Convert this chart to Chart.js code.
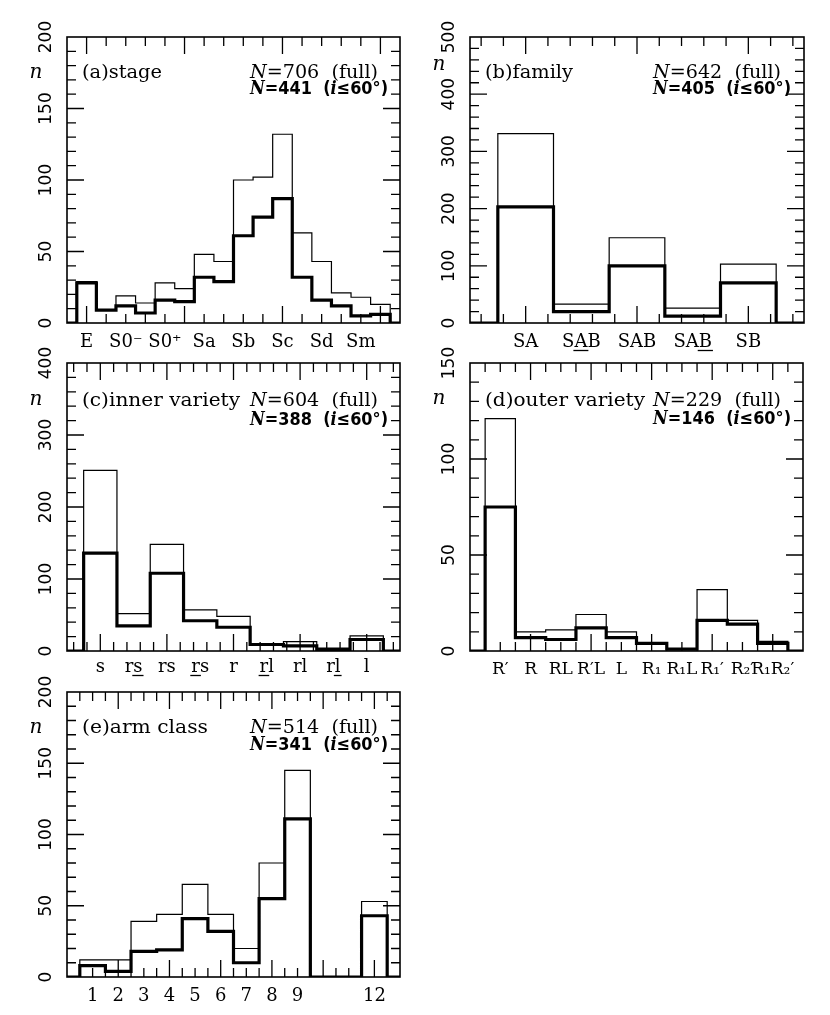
<!DOCTYPE html>
<html><head><meta charset="utf-8">
<script src="https://cdn.jsdelivr.net/npm/chart.js@4.4.1/dist/chart.umd.min.js"></script>
<style>
html,body{margin:0;padding:0;background:#fff;}
#page{position:relative;width:830px;height:1015px;background:#fff;}
canvas{position:absolute;left:0;top:0;}
</style></head><body><div id="page">
<canvas id="ca" width="830" height="1015"></canvas>
<canvas id="cb" width="830" height="1015"></canvas>
<canvas id="cc" width="830" height="1015"></canvas>
<canvas id="cd" width="830" height="1015"></canvas>
<canvas id="ce" width="830" height="1015"></canvas>
</div>
<script>
// ---------- data ----------
const stageBins = ['E','E⁺','S0⁻','S0°','S0⁺','S0/a','Sa','Sab','Sb','Sbc','Sc','Scd','Sd','Sdm','Sm','Im'];
const stageTickLabels = ['E','S0⁻','S0⁺','Sa','Sb','Sc','Sd','Sm'];
const stageFull = [29,9,19,14,28,24,48,43,100,102,132,63,43,21,18,13];
const stageIncl = [28,9,12,7,16,15,32,29,61,74,87,32,16,12,5,6];

const familyBins = ['SA','S[A]B','SAB','SA[B]','SB'];
const familyTickLabels = ['SA','S[A]B','SAB','SA[B]','SB'];
const familyFull = [331,33,149,26,103];
const familyIncl = [203,20,100,12,70];

const innerBins = ['s','r[s]','rs','[r]s','r','[r]l','rl','r[l]','l'];
const innerTickLabels = ['s','r[s]','rs','[r]s','r','[r]l','rl','r[l]','l'];
const innerFull = [251,52,148,57,48,10,13,4,21];
const innerIncl = [136,35,108,42,33,9,7,2,16];

const outerBins = ['R′','R','RL','R′L','L','R₁','R₁L','R₁′','R₂′','R₁R₂′'];
const outerTickLabels = ['R′','R','RL','R′L','L','R₁','R₁L','R₁′','R₂′','R₁R₂′'];
const outerFull = [121,10,11,19,10,4,1,32,16,5];
const outerIncl = [75,7,6,12,7,4,1,16,14,4];

const armBins = ['1','2','3','4','5','6','7','8','9','10','11','12'];
const armTickLabels = ['1','2','3','4','5','6','7','8','9','12'];
const armFull = [12,12,39,44,65,44,20,80,145,0,0,53];
const armIncl = [8,4,18,19,41,32,10,55,111,0,0,43];

const panelTitles = ['(a)stage','(b)family','(c)inner variety','(d)outer variety','(e)arm class'];
const totalsFull = [706,642,604,229,514];
const totalsIncl = [441,405,388,146,341];
const yAxisMax = [200,500,400,150,200];

// ---------- layout / style ----------
const W = 830, H = 1015;
const SERIF = '"DejaVu Serif", "Liberation Serif", serif';
const SANS = '"DejaVu Sans", "Liberation Sans", sans-serif';

const panels = [
  {id:'ca', box:[67,37,400,323], bins:stageBins, tickLabels:stageTickLabels, full:stageFull, incl:stageIncl,
   offset:0, xMin:-1, xMax:16, xMajStart:0, xMajStep:5, xMinStep:1, yMajStep:50, yMinStep:10,
   titleW:80, l1:41, l2:57, nY:41, labY:24, labSize:18},
  {id:'cb', box:[470,37,804,323], bins:familyBins, tickLabels:familyTickLabels, full:familyFull, incl:familyIncl,
   offset:0, xMin:-1, xMax:5, xMajStart:0, xMajStep:2, xMinStep:0.4, yMajStep:100, yMinStep:20,
   titleW:88, l1:41, l2:57, nY:33, labY:24, labSize:18},
  {id:'cc', box:[67,363,400,651], bins:innerBins, tickLabels:innerTickLabels, full:innerFull, incl:innerIncl,
   offset:0, xMin:-1, xMax:9, xMajStart:0, xMajStep:2, xMinStep:0.4, yMajStep:100, yMinStep:20,
   titleW:158, l1:43, l2:62, nY:42, labY:21, labSize:18},
  {id:'cd', box:[470,363,803,651], bins:outerBins, tickLabels:outerTickLabels, full:outerFull, incl:outerIncl,
   offset:0, xMin:-1, xMax:10, xMajStart:1, xMajStep:2, xMinStep:0.5, yMajStep:50, yMinStep:10,
   titleW:160, l1:43, l2:61, nY:41, labY:23, labSize:17},
  {id:'ce', box:[67,692,400,977], bins:armBins, tickLabels:armTickLabels, full:armFull, incl:armIncl,
   offset:1, xMin:0, xMax:13, xMajStart:0, xMajStep:2, xMinStep:0.5, yMajStep:50, yMinStep:10,
   titleW:126, l1:41, l2:58, nY:41, labY:24, labSize:18}
];

function stepPoints(values, offset, xMin, xMax){
  const pts = [{x:xMin, y:0}];
  values.forEach((v,i)=>{ pts.push({x:i+offset-0.5, y:v}); });
  pts.push({x:values.length-1+offset+0.5, y:0});
  pts.push({x:xMax, y:0});
  return pts;
}

function tickValues(min, max, start, step){
  const out = [];
  const k0 = Math.ceil((min-start)/step - 1e-9);
  for(let k=k0; k<10000; k++){
    const v = start + k*step;
    if (v > max + 1e-9) break;
    if (v > min + 1e-9 && v < max - 1e-9) out.push(+v.toFixed(6));
  }
  return out;
}

function drawRich(ctx, segs, x, y, target){
  let w = 0;
  segs.forEach(s=>{ ctx.font = s.f; w += ctx.measureText(s.t).width; });
  let sx = target ? target / w : 1;
  sx = Math.max(0.8, Math.min(1.25, sx));
  ctx.save();
  ctx.translate(x, y); ctx.scale(sx, 1);
  ctx.textAlign = 'left'; ctx.textBaseline = 'alphabetic';
  let cx = 0;
  segs.forEach(s=>{ ctx.font = s.f; ctx.fillText(s.t, cx, 0); cx += ctx.measureText(s.t).width; });
  ctx.restore();
}

// label with [..] marking underlined part
function drawTickLabel(ctx, spec, cx, baseline, size){
  const font = size + 'px ' + SERIF;
  ctx.font = font;
  const plain = spec.replace(/[\[\]]/g,'');
  const w = ctx.measureText(plain).width;
  const x0 = cx - w/2;
  ctx.textAlign = 'left'; ctx.textBaseline = 'alphabetic';
  ctx.fillText(plain, x0, baseline);
  const a = spec.indexOf('['), b = spec.indexOf(']');
  if (a >= 0 && b > a){
    const pre = spec.slice(0,a);
    const mid = spec.slice(a+1,b);
    const ux0 = x0 + ctx.measureText(pre).width;
    const ux1 = ux0 + ctx.measureText(mid).width;
    ctx.beginPath();
    ctx.lineWidth = 1.3;
    ctx.moveTo(ux0 - 1, baseline + 3.5);
    ctx.lineTo(ux1 + 1, baseline + 3.5);
    ctx.stroke();
  }
}

function framePlugin(p, idx){
  return {
    id: 'frame' + idx,
    afterDraw(chart){
      const ctx = chart.ctx;
      const xs = chart.scales.x, ys = chart.scales.y;
      const a = chart.chartArea;
      const L = a.left, T = a.top, R = a.right, B = a.bottom;
      ctx.save();
      ctx.strokeStyle = '#000'; ctx.fillStyle = '#000';
      // frame
      ctx.lineWidth = 1.6;
      ctx.strokeRect(L, T, R-L, B-T);
      // ticks
      ctx.lineWidth = 1.3;
      const MAJ = 17, MIN = 9;
      const xMaj = tickValues(p.xMin, p.xMax, p.xMajStart, p.xMajStep);
      const xMinT = tickValues(p.xMin, p.xMax, p.xMajStart, p.xMinStep)
        .filter(v => !xMaj.some(m => Math.abs(m-v) < 1e-6));
      const yMax = ys.max;
      const yMaj = tickValues(0, yMax, 0, p.yMajStep);
      const yMinT = tickValues(0, yMax, 0, p.yMinStep)
        .filter(v => !yMaj.some(m => Math.abs(m-v) < 1e-6));
      ctx.beginPath();
      [[xMaj,MAJ],[xMinT,MIN]].forEach(([vals,len])=>{
        vals.forEach(v=>{
          const px = xs.getPixelForValue(v);
          ctx.moveTo(px, B); ctx.lineTo(px, B-len);
          ctx.moveTo(px, T); ctx.lineTo(px, T+len);
        });
      });
      [[yMaj,MAJ],[yMinT,MIN]].forEach(([vals,len])=>{
        vals.forEach(v=>{
          const py = ys.getPixelForValue(v);
          ctx.moveTo(L, py); ctx.lineTo(L+len, py);
          ctx.moveTo(R, py); ctx.lineTo(R-len, py);
        });
      });
      ctx.stroke();
      // y tick labels (rotated)
      const yLab = [0].concat(yMaj).concat([yMax]);
      ctx.font = '17px ' + SANS;
      yLab.forEach(v=>{
        const py = ys.getPixelForValue(v);
        ctx.save();
        ctx.translate(L - 20, py);
        ctx.rotate(-Math.PI/2);
        ctx.textAlign = 'center'; ctx.textBaseline = 'middle';
        ctx.fillText(String(v), 0, 0);
        ctx.restore();
      });
      // x tick labels
      p.tickLabels.forEach(lbl=>{
        const i = p.bins.indexOf(lbl);
        const px = xs.getPixelForValue(i + p.offset);
        drawTickLabel(ctx, lbl, px, B + p.labY, p.labSize);
      });
      // axis symbol n
      ctx.font = 'italic 20px ' + SERIF;
      ctx.textAlign = 'center'; ctx.textBaseline = 'alphabetic';
      ctx.fillText('n', L - 31, T + p.nY);
      // annotations
      drawRich(ctx, [{t: panelTitles[idx], f: '19px ' + SERIF}], L + 15, T + p.l1, p.titleW);
      drawRich(ctx, [
        {t:'N', f:'italic 19px ' + SERIF},
        {t:'=' + totalsFull[idx] + '  (full)', f:'19px ' + SERIF}
      ], L + 183, T + p.l1, 128);
      drawRich(ctx, [
        {t:'N', f:'italic bold 18px ' + SERIF},
        {t:'=' + totalsIncl[idx] + '  (', f:'bold 18px ' + SANS},
        {t:'i', f:'italic bold 18px ' + SERIF},
        {t:'≤60°)', f:'bold 18px ' + SANS}
      ], L + 183, T + p.l2, 138);
      ctx.restore();
    }
  };
}

panels.forEach((p, idx)=>{
  const [L,T,R,B] = p.box;
  const ctx = document.getElementById(p.id).getContext('2d');
  new Chart(ctx, {
    type: 'line',
    data: {
      datasets: [
        {label:'i≤60°', data: stepPoints(p.incl, p.offset, p.xMin, p.xMax), stepped: true,
         borderColor:'#000', borderWidth:3.2, pointRadius:0, fill:false, tension:0},
        {label:'full', data: stepPoints(p.full, p.offset, p.xMin, p.xMax), stepped: true,
         borderColor:'#000', borderWidth:1.2, pointRadius:0, fill:false, tension:0}
      ]
    },
    options: {
      responsive:false, animation:false, devicePixelRatio:1,
      layout:{padding:{left:L, top:T, right:W-R, bottom:H-B}},
      parsing:true,
      plugins:{legend:{display:false}, tooltip:{enabled:false}},
      events: [],
      scales:{
        x:{type:'linear', min:p.xMin, max:p.xMax, display:false},
        y:{type:'linear', min:0, max:yAxisMax[idx], display:false}
      }
    },
    plugins:[framePlugin(p, idx)]
  });
});
</script>
</body></html>
